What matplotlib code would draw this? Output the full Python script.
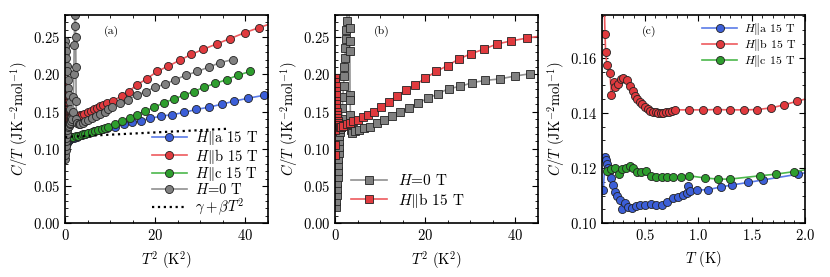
import numpy as np
import matplotlib
matplotlib.use("Agg")
import matplotlib.pyplot as plt
from matplotlib.ticker import MultipleLocator

plt.rcParams['font.family'] = 'serif'
plt.rcParams['font.serif'] = ['cmr10', 'DejaVu Serif']
plt.rcParams['mathtext.fontset'] = 'cm'
plt.rcParams['axes.formatter.use_mathtext'] = True
plt.rcParams['font.size'] = 10.5

# ---- panel (a): C/T vs T^2 ----
a_x = [0.013, 0.017, 0.021, 0.027, 0.035, 0.049, 0.065, 0.084, 0.10, 0.14,
       0.20, 0.30, 0.42, 0.58, 0.73, 0.82, 0.99, 1.18, 1.5, 1.9,
       2.6, 3.7, 4.5, 5.4, 6.4, 7.4, 8.4, 9.4, 11.1, 13.0,
       14.8, 16.8, 18.9, 21.3, 23.8, 26.4, 29.1, 31.9, 34.7, 37.4,
       40.5, 44.1, 47.0]
a_y = [0.112, 0.124, 0.121, 0.119, 0.116, 0.111, 0.108, 0.105, 0.107, 0.106,
       0.107, 0.107, 0.108, 0.110, 0.111, 0.1136, 0.112, 0.113, 0.114, 0.115,
       0.116, 0.118, 0.120, 0.122, 0.124, 0.126, 0.127, 0.128, 0.130, 0.133,
       0.136, 0.138, 0.141, 0.144, 0.146, 0.149, 0.153, 0.156, 0.160, 0.164,
       0.168, 0.172, 0.175]

b_x = [0.004, 0.008, 0.012, 0.016, 0.018, 0.021, 0.031, 0.035, 0.045, 0.050,
       0.064, 0.077, 0.089, 0.109, 0.130, 0.149, 0.166, 0.185, 0.21, 0.25,
       0.30, 0.36, 0.42, 0.49, 0.57, 0.61, 0.84, 1.10, 1.37, 1.68,
       2.04, 2.41, 2.82, 3.25, 3.69, 4.3, 5.0, 5.7, 6.4, 7.1,
       7.8, 8.5, 9.3, 10.7, 12.6, 14.1, 15.9, 18.1, 20.4, 22.8,
       25.4, 28.0, 30.7, 33.6, 36.5, 39.8, 43.0, 46.5]
b_y = [0.21, 0.19, 0.175, 0.1687, 0.162, 0.157, 0.154, 0.1465, 0.151, 0.149,
       0.150, 0.152, 0.1526, 0.152, 0.1496, 0.148, 0.1463, 0.145, 0.144, 0.1426,
       0.1415, 0.1405, 0.140, 0.140, 0.1405, 0.141, 0.1415, 0.142, 0.142, 0.1425,
       0.143, 0.1435, 0.144, 0.145, 0.146, 0.147, 0.149, 0.151, 0.153, 0.155,
       0.157, 0.159, 0.161, 0.165, 0.171, 0.177, 0.186, 0.194, 0.204, 0.211,
       0.219, 0.227, 0.234, 0.241, 0.248, 0.256, 0.263, 0.270]

c_x = [0.021, 0.034, 0.049, 0.067, 0.084, 0.105, 0.131, 0.154, 0.180, 0.213,
       0.261, 0.311, 0.365, 0.431, 0.504, 0.587, 0.697, 0.839, 1.141, 1.406,
       1.680, 2.484, 2.979, 3.587, 4.0, 4.5, 5.2, 5.9, 6.7, 7.4,
       8.1, 8.8, 9.6, 11.1, 12.6, 14.3, 15.9, 17.8, 19.8, 21.9,
       24.1, 26.3, 28.5, 30.9, 33.3, 35.8, 38.3, 41.0]
c_y = [0.1190, 0.1196, 0.1202, 0.1180, 0.1196, 0.1200, 0.1206, 0.1202, 0.1187, 0.1184,
       0.1188, 0.1172, 0.1166, 0.1166, 0.1168, 0.1168, 0.1166, 0.1172, 0.1164, 0.1160,
       0.1160, 0.1172, 0.1178, 0.1187, 0.1195, 0.120, 0.121, 0.1225, 0.124, 0.1255,
       0.127, 0.1285, 0.130, 0.134, 0.137, 0.142, 0.146, 0.151, 0.156, 0.162,
       0.167, 0.172, 0.177, 0.183, 0.188, 0.193, 0.199, 0.204]

h0_x = [0.05, 0.08, 0.12, 0.17, 0.22, 0.28, 0.35, 0.45, 0.6, 0.8,
        1.0, 1.2, 1.4, 1.6, 1.75, 1.85, 1.95, 2.05, 2.12, 2.18,
        2.25, 2.32, 2.38, 2.42, 2.47, 2.52, 2.7, 3.0, 3.4, 3.9,
        4.5, 5.2, 6.0, 6.9, 7.8, 8.8, 9.6, 10.4, 12.1, 13.9,
        15.9, 17.9, 20.0, 22.2, 24.4, 26.8, 29.3, 31.9, 34.4, 37.2]
h0_y = [0.086, 0.092, 0.098, 0.104, 0.110, 0.115, 0.120, 0.125, 0.129, 0.131,
        0.133, 0.135, 0.137, 0.140, 0.150, 0.170, 0.200, 0.240, 0.265, 0.285,
        0.300, 0.280, 0.250, 0.210, 0.165, 0.140, 0.135, 0.134, 0.134, 0.135,
        0.137, 0.139, 0.141, 0.144, 0.147, 0.150, 0.153, 0.156, 0.161, 0.166,
        0.172, 0.177, 0.183, 0.187, 0.193, 0.199, 0.204, 0.210, 0.216, 0.220]
# low-T upturn branch of the zero-field data
h0_low_x = [0.02, 0.1, 0.2, 0.3, 0.4, 0.5, 0.62, 0.75, 0.9, 1.05, 1.2, 1.35]
h0_low_y = [0.245, 0.238, 0.232, 0.222, 0.212, 0.204, 0.192, 0.182, 0.172, 0.163, 0.153, 0.142]

fit_x = [0.0, 36.0]
fit_y = [0.116, 0.127]

# ---- panel (b) ----
b0_x = [0.25, 0.32, 0.38, 0.44, 0.50, 0.56, 0.62, 0.68, 0.74, 0.80,
        0.86, 0.92, 0.98, 1.05, 1.15, 1.3, 1.45, 1.6, 1.75, 1.9,
        2.0, 2.1, 2.2, 2.3, 2.4, 2.5, 2.6, 2.75, 2.95, 3.1,
        3.22, 3.27, 3.3, 3.33, 3.36, 3.42, 3.5, 3.7, 4.4, 5.4,
        6.5, 7.8, 9.3, 10.9, 12.6, 14.4, 16.4, 18.5, 20.6, 22.8,
        25.2, 27.8, 30.4, 33.3, 36.5, 40.0, 43.3]
b0_y = [0.022, 0.030, 0.038, 0.046, 0.054, 0.062, 0.070, 0.078, 0.086, 0.094,
        0.102, 0.110, 0.117, 0.123, 0.127, 0.130, 0.140, 0.155, 0.170, 0.185,
        0.198, 0.210, 0.222, 0.235, 0.248, 0.260, 0.272, 0.290, 0.300, 0.290,
        0.262, 0.245, 0.231, 0.173, 0.166, 0.145, 0.125, 0.121, 0.124, 0.126,
        0.128, 0.130, 0.135, 0.139, 0.144, 0.150, 0.155, 0.162, 0.168, 0.174,
        0.181, 0.184, 0.189, 0.192, 0.194, 0.198, 0.201]

bb_x = [0.010, 0.014, 0.020, 0.026, 0.032, 0.040, 0.053, 0.068, 0.090, 0.116,
        0.144, 0.176, 0.21, 0.25, 0.30, 0.36, 0.42, 0.49, 0.60, 0.74,
        0.88, 1.04, 1.3, 1.8, 2.6, 3.3, 4.1, 5.0, 6.2, 7.4,
        8.7, 10.2, 11.9, 13.7, 15.7, 17.8, 20.0, 22.4, 25.0, 27.5,
        30.2, 33.0, 35.9, 39.0, 42.6, 46.0]
bb_y = [0.092, 0.105, 0.125, 0.150, 0.170, 0.185, 0.193, 0.195, 0.190, 0.185,
        0.178, 0.172, 0.165, 0.160, 0.155, 0.150, 0.146, 0.142, 0.138, 0.135,
        0.132, 0.130, 0.130, 0.131, 0.133, 0.135, 0.137, 0.139, 0.143, 0.146,
        0.150, 0.156, 0.163, 0.171, 0.179, 0.186, 0.195, 0.204, 0.212, 0.221,
        0.228, 0.234, 0.241, 0.245, 0.249, 0.252]

# ---- panel (c): C/T vs T ----
ta = [0.112, 0.131, 0.137, 0.146, 0.156, 0.168, 0.181, 0.199, 0.221, 0.243,
      0.268, 0.290, 0.318, 0.346, 0.377, 0.417, 0.455, 0.505, 0.555, 0.604,
      0.660, 0.710, 0.760, 0.807, 0.854, 0.894, 0.907, 0.920, 0.993, 1.093,
      1.218, 1.321, 1.467, 1.607, 1.935, 2.10]
ca = [0.1120, 0.1241, 0.1230, 0.1215, 0.1200, 0.1185, 0.1165, 0.1140, 0.1115, 0.1099,
      0.1085, 0.1051, 0.1073, 0.1060, 0.1057, 0.1063, 0.1067, 0.1067, 0.1069, 0.1067,
      0.1067, 0.1077, 0.1090, 0.1096, 0.1102, 0.1108, 0.1136, 0.1117, 0.1120, 0.1122,
      0.1132, 0.1139, 0.1148, 0.1157, 0.1178, 0.1190]

tb = [0.118, 0.128, 0.134, 0.146, 0.175, 0.187, 0.212, 0.224, 0.252, 0.277,
      0.299, 0.330, 0.362, 0.386, 0.408, 0.430, 0.455, 0.477, 0.502, 0.526,
      0.551, 0.576, 0.601, 0.626, 0.651, 0.673, 0.698, 0.723, 0.754, 0.782,
      0.916, 1.047, 1.172, 1.296, 1.427, 1.551, 1.679, 1.804, 1.922, 2.10]
cb = [0.185, 0.1687, 0.1620, 0.1572, 0.1544, 0.1465, 0.1511, 0.1494, 0.1503, 0.1524,
      0.1526, 0.1520, 0.1496, 0.1479, 0.1463, 0.1451, 0.1441, 0.1433, 0.1423, 0.1415,
      0.1408, 0.1405, 0.1402, 0.1400, 0.1399, 0.1400, 0.1402, 0.1405, 0.1408, 0.1411,
      0.1411, 0.1411, 0.1412, 0.1411, 0.1411, 0.1412, 0.1418, 0.1429, 0.1442, 0.1460]

tc = [0.144, 0.184, 0.221, 0.259, 0.290, 0.324, 0.362, 0.393, 0.424, 0.461,
      0.511, 0.558, 0.604, 0.657, 0.710, 0.766, 0.835, 0.916, 1.068, 1.186,
      1.296, 1.576, 1.726, 1.894, 2.10]
cc = [0.1190, 0.1196, 0.1202, 0.1180, 0.1196, 0.1200, 0.1206, 0.1202, 0.1187, 0.1184,
      0.1188, 0.1172, 0.1166, 0.1166, 0.1168, 0.1168, 0.1166, 0.1172, 0.1164, 0.1160,
      0.1160, 0.1172, 0.1178, 0.1187, 0.1200]

BLUE, BLUE_L = '#3c5fd8', '#5b7be8'
RED, RED_L = '#e03a3e', '#ee5a5e'
GREEN, GREEN_L = '#2e9e2e', '#4cb84c'
GRAY, GRAY_L = '#808080', '#909090'

ylab = r'$C/T$ (JK$^{-2}$mol$^{-1}$)'

fig = plt.figure(figsize=(8.3, 2.77), dpi=100)
w, h, bot = 0.2446, 0.752, 0.194
ax1 = fig.add_axes([0.0783, bot, w, h])
ax2 = fig.add_axes([0.4036, bot, w, h])
ax3 = fig.add_axes([0.7253, bot, w, h])


def style(ax, mx_major, mx_minor, my_major, my_minor):
    ax.xaxis.set_major_locator(MultipleLocator(mx_major))
    ax.xaxis.set_minor_locator(MultipleLocator(mx_minor))
    ax.yaxis.set_major_locator(MultipleLocator(my_major))
    ax.yaxis.set_minor_locator(MultipleLocator(my_minor))
    ax.tick_params(which='both', direction='in', top=True, right=True)
    ax.tick_params(which='major', length=4, width=0.8)
    ax.tick_params(which='minor', length=2, width=0.6)
    for s in ax.spines.values():
        s.set_linewidth(1.2)
    ax.yaxis.labelpad = 2


mk = dict(marker='o', ms=5.8, mec='#222222', mew=0.6, lw=1.2)

ax1.plot(a_x, a_y, color=BLUE_L, mfc=BLUE, label=r'$H\Vert$a 15 T', **mk)
ax1.plot(b_x, b_y, color=RED_L, mfc=RED, label=r'$H\Vert$b 15 T', **mk)
ax1.plot(c_x, c_y, color=GREEN_L, mfc=GREEN, label=r'$H\Vert$c 15 T', **mk)
ax1.plot(h0_low_x, h0_low_y, color=GRAY_L, mfc=GRAY, **mk)
ax1.plot(h0_x, h0_y, color=GRAY_L, mfc=GRAY, label=r'$H$=0 T', **mk)
ax1.plot(fit_x, fit_y, color='k', ls=':', lw=1.6, label=r'$\gamma + \beta T^2$')
ax1.set_xlim(0, 45)
ax1.set_ylim(0, 0.28)
style(ax1, 20, 5, 0.05, 0.01)
ax1.set_xlabel(r'$T^2$ (K$^2$)')
ax1.set_ylabel(ylab)
ax1.text(0.23, 0.91, '(a)', transform=ax1.transAxes, fontsize=8.5, ha='center')
ax1.legend(loc='lower right', bbox_to_anchor=(1.0, -0.015), frameon=False,
           fontsize=10.5, handlelength=2.4, labelspacing=-0.05,
           borderaxespad=0.2, handletextpad=0.6)

mks = dict(mk, marker='s', ms=6.0)
ax2.plot(b0_x, b0_y, color=GRAY_L, mfc=GRAY, label=r'$H$=0 T', **mks)
ax2.plot(bb_x, bb_y, color=RED_L, mfc=RED, label=r'$H\Vert$b 15 T', **mks)
ax2.set_xlim(0, 45)
ax2.set_ylim(0, 0.28)
style(ax2, 20, 5, 0.05, 0.01)
ax2.set_xlabel(r'$T^2$ (K$^2$)')
ax2.set_ylabel(ylab)
ax2.text(0.23, 0.91, '(b)', transform=ax2.transAxes, fontsize=8.5, ha='center')
ax2.legend(loc='lower left', bbox_to_anchor=(0.01, 0.0), frameon=False, fontsize=11,
           handlelength=2.4, labelspacing=0.15, handletextpad=0.7)

ax3.plot(ta, ca, color=BLUE_L, mfc=BLUE, label=r'$H\Vert$a 15 T', **mk)
ax3.plot(tb, cb, color=RED_L, mfc=RED, label=r'$H\Vert$b 15 T', **mk)
ax3.plot(tc, cc, color=GREEN_L, mfc=GREEN, label=r'$H\Vert$c 15 T', **mk)
ax3.set_xlim(0.1, 2.0)
ax3.set_ylim(0.10, 0.1755)
style(ax3, 0.5, 0.1, 0.02, 0.005)
ax3.set_xlabel(r'$T$ (K)')
ax3.set_ylabel(ylab)
ax3.text(0.23, 0.91, '(c)', transform=ax3.transAxes, fontsize=8.5, ha='center')
ax3.legend(loc='upper right', bbox_to_anchor=(1.0, 1.01), frameon=False, fontsize=8.6,
           handlelength=2.9, labelspacing=0.0, borderaxespad=0.3, handletextpad=0.6)

fig.savefig('out.png', dpi=100)
